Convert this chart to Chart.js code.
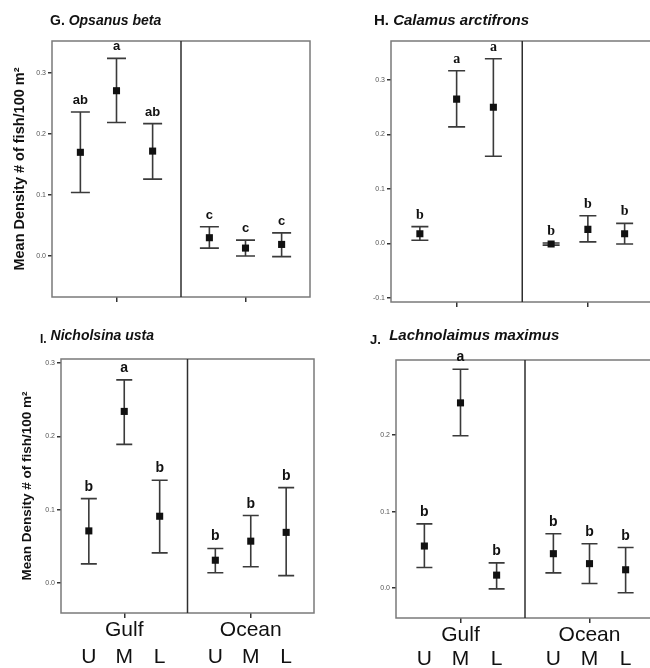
<!DOCTYPE html>
<html><head><meta charset="utf-8">
<script src="https://cdn.jsdelivr.net/npm/chart.js@4/dist/chart.umd.min.js"></script>
<style>
html,body{margin:0;padding:0;background:#fff;width:650px;height:668px;overflow:hidden;position:relative;font-family:Arial,"Liberation Sans",sans-serif;}
.pc{position:absolute;}
.pc canvas{display:block;}
.ttl{position:absolute;font-weight:bold;white-space:nowrap;color:#111;line-height:1;z-index:5;}
.ttl i{font-style:italic;}
</style></head><body>
<div class="pc" style="left:0;top:0;"><canvas id="cG" width="320" height="310"></canvas></div>
<div class="pc" style="left:330px;top:0;"><canvas id="cH" width="330" height="310"></canvas></div>
<div class="pc" style="left:0;top:305px;"><canvas id="cI" width="320" height="363"></canvas></div>
<div class="pc" style="left:330px;top:305px;"><canvas id="cJ" width="330" height="363"></canvas></div>

<div class="ttl" style="left:50px;top:13px;font-size:14px;">G. <i>Opsanus beta</i></div>
<div class="ttl" style="left:374px;top:12px;font-size:15px;">H. <i>Calamus arctifrons</i></div>
<div class="ttl" style="left:40px;top:328px;font-size:14px;"><span style="position:relative;top:3px;font-size:12px;">I.</span> <i>Nicholsina usta</i></div>
<div class="ttl" style="left:370px;top:327px;font-size:15px;"><span style="position:relative;top:4px;font-size:13px;">J.</span>&nbsp; <i>Lachnolaimus maximus</i></div>

<script>
// ---------- data ----------
const groups = ['Gulf', 'Ocean'];
const sites = ['U', 'M', 'L'];
const yTitle = 'Mean Density # of fish/100 m²';

const yTicksG = [0, 0.1, 0.2, 0.3];
const yTicksH = [-0.1, 0, 0.1, 0.2, 0.3];
const yTicksI = [0, 0.1, 0.2, 0.3];
const yTicksJ = [0, 0.1, 0.2];

// G. Opsanus beta  (Gulf U,M,L, Ocean U,M,L)
const gMean = [0.170, 0.271, 0.172, 0.030, 0.013, 0.019];
const gLow  = [0.104, 0.219, 0.126, 0.013, 0.000, -0.001];
const gHigh = [0.236, 0.324, 0.217, 0.048, 0.026, 0.038];
const gLetters = ['ab', 'a', 'ab', 'c', 'c', 'c'];

// H. Calamus arctifrons
const hMean = [0.018, 0.265, 0.250, -0.001, 0.026, 0.018];
const hLow  = [0.006, 0.214, 0.160, -0.003, 0.003, -0.001];
const hHigh = [0.031, 0.317, 0.339, 0.001, 0.051, 0.037];
const hLetters = ['b', 'a', 'a', 'b', 'b', 'b'];

// I. Nicholsina usta
const iMean = [0.071, 0.234, 0.091, 0.031, 0.057, 0.069];
const iLow  = [0.026, 0.189, 0.041, 0.014, 0.022, 0.010];
const iHigh = [0.115, 0.277, 0.140, 0.047, 0.092, 0.130];
const iLetters = ['b', 'a', 'b', 'b', 'b', 'b'];

// J. Lachnolaimus maximus
const jMean = [0.055, 0.242, 0.017, 0.045, 0.032, 0.024];
const jLow  = [0.027, 0.199, -0.001, 0.020, 0.006, -0.006];
const jHigh = [0.084, 0.286, 0.033, 0.071, 0.058, 0.053];
const jLetters = ['b', 'a', 'b', 'b', 'b', 'b'];

// ---------- drawing ----------
const SANS = 'Arial, "Liberation Sans", sans-serif';
const SITE_OFFSET = 0.28;
const xPos = i => Math.floor(i / 3) + 1 + (i % 3 - 1) * SITE_OFFSET;

function panelPlugin(p) {
  return {
    id: 'panel',
    beforeDatasetsDraw(chart) {
      const {ctx, chartArea: a, scales: {x, y}} = chart;
      ctx.save();
      ctx.strokeStyle = '#7a7a7a'; ctx.lineWidth = 1.5;
      ctx.strokeRect(a.left, a.top, a.right - a.left, a.bottom - a.top);
      const dx = x.getPixelForValue(1.5);
      ctx.strokeStyle = '#2e2e2e'; ctx.lineWidth = 1.5;
      ctx.beginPath(); ctx.moveTo(dx, a.top); ctx.lineTo(dx, a.bottom); ctx.stroke();
      ctx.strokeStyle = '#3a3a3a'; ctx.lineWidth = 1.6;
      ctx.fillStyle = '#111'; ctx.font = p.font;
      ctx.textAlign = 'center'; ctx.textBaseline = 'alphabetic';
      p.low.forEach((lo, i) => {
        const px = x.getPixelForValue(xPos(i));
        const yl = y.getPixelForValue(lo), yh = y.getPixelForValue(p.high[i]);
        ctx.beginPath();
        ctx.moveTo(px, yl); ctx.lineTo(px, yh);
        ctx.moveTo(px - p.cap / 2, yl); ctx.lineTo(px + p.cap / 2, yl);
        ctx.moveTo(px - p.cap / 2, yh); ctx.lineTo(px + p.cap / 2, yh);
        ctx.stroke();
        ctx.fillText(p.letters[i], px, yh - 8);
      });
      ctx.restore();
    }
  };
}

function makePanel(id, cfg) {
  const scales = {
    x: {
      type: 'linear', min: 0.5, max: 2.5, position: 'bottom',
      afterBuildTicks: s => { s.ticks = groups.map((g, i) => ({value: i + 1})); },
      afterFit: s => { s.height = cfg.xh1; },
      ticks: {callback: (v, i) => cfg.labels ? groups[i] : '', font: {size: 21, family: SANS}, color: '#111', padding: 0, maxRotation: 0, autoSkip: false},
      grid: {drawOnChartArea: false, drawTicks: true, tickLength: 5, color: '#333', lineWidth: 1.5},
      border: {display: false}
    },
    y: {
      type: 'linear', min: cfg.ymin, max: cfg.ymax, position: 'left',
      afterBuildTicks: s => { s.ticks = cfg.yTicks.map(v => ({value: v})); },
      afterFit: s => { s.width = cfg.yw; },
      ticks: {callback: v => v.toFixed(1), font: {size: 7, family: SANS}, color: '#555', padding: 2},
      grid: {drawOnChartArea: false, drawTicks: true, tickLength: 4, color: '#333', lineWidth: 1.5},
      border: {display: false},
      title: cfg.title ? {display: true, text: yTitle, color: '#111', font: cfg.title.font, padding: {top: cfg.title.pad, bottom: 0}} : {display: false}
    }
  };
  if (cfg.labels) {
    scales.x2 = {
      type: 'linear', min: 0.5, max: 2.5, position: 'bottom',
      afterBuildTicks: s => { s.ticks = [0, 1, 2, 3, 4, 5].map(i => ({value: xPos(i)})); },
      afterFit: s => { s.height = cfg.xh2; },
      ticks: {callback: (v, i) => sites[i % 3], font: {size: 21, family: SANS}, color: '#111', padding: cfg.x2pad, maxRotation: 0, autoSkip: false},
      grid: {display: false, drawTicks: false, tickLength: 0},
      border: {display: false}
    };
  }
  new Chart(document.getElementById(id), {
    type: 'scatter',
    data: {datasets: [{
      data: cfg.mean.map((m, i) => ({x: xPos(i), y: m})),
      pointStyle: 'rect', pointRadius: 5, pointHoverRadius: 5,
      backgroundColor: '#111', borderColor: '#111', borderWidth: 0, showLine: false
    }]},
    options: {
      responsive: false, animation: false, events: [],
      layout: {padding: cfg.pad},
      plugins: {legend: {display: false}, tooltip: {enabled: false}},
      scales
    },
    plugins: [panelPlugin({low: cfg.low, high: cfg.high, letters: cfg.letters, font: cfg.font, cap: cfg.cap})]
  });
}

makePanel('cG', {
  mean: gMean, low: gLow, high: gHigh, letters: gLetters, yTicks: yTicksG,
  ymin: -0.0672, ymax: 0.3525, yw: 52, xh1: 13, labels: false,
  pad: {left: 0, right: 10, top: 41, bottom: 0},
  font: 'bold 13px ' + SANS, cap: 19,
  title: {font: {size: 14.5, weight: 'bold', family: SANS}, pad: 11}
});
makePanel('cH', {
  mean: hMean, low: hLow, high: hHigh, letters: hLetters, yTicks: yTicksH,
  ymin: -0.1073, ymax: 0.3716, yw: 61, xh1: 8, labels: false,
  pad: {left: 0, right: 6.5, top: 41, bottom: 0},
  font: 'bold 14px "Liberation Serif", "Times New Roman", serif', cap: 17,
  title: null
});
makePanel('cI', {
  mean: iMean, low: iLow, high: iHigh, letters: iLetters, yTicks: yTicksI,
  ymin: -0.041, ymax: 0.3055, yw: 61, xh1: 30, xh2: 25, x2pad: 2, labels: true,
  pad: {left: 0, right: 6, top: 54, bottom: 0},
  font: 'bold 14px ' + SANS, cap: 16,
  title: {font: {size: 13.5, weight: 'bold', family: SANS}, pad: 19}
});
makePanel('cJ', {
  mean: jMean, low: jLow, high: jHigh, letters: jLetters, yTicks: yTicksJ,
  ymin: -0.039, ymax: 0.298, yw: 66, xh1: 28, xh2: 22, x2pad: 1, labels: true,
  pad: {left: 0, right: 6, top: 55, bottom: 0},
  font: 'bold 14px ' + SANS, cap: 16,
  title: null
});
</script>
</body></html>
